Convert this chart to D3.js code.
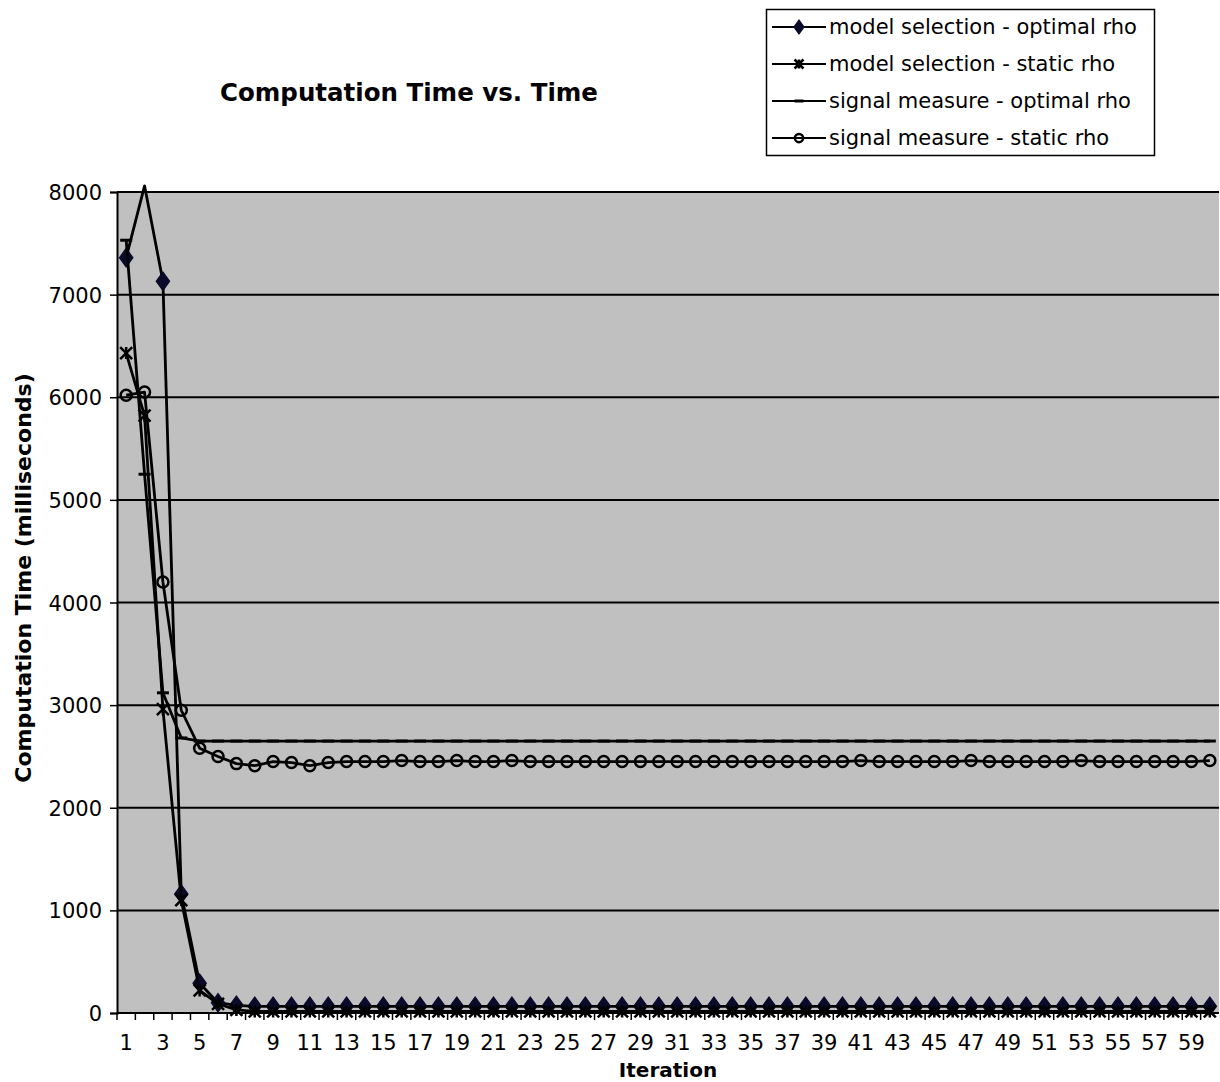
<!DOCTYPE html>
<html lang="en">
<head>
<meta charset="UTF-8">
<title>Computation Time vs. Time</title>
<script src="https://d3js.org/d3.v7.min.js"></script>
<style>
    body { margin: 0; background: #fff; font-family: "DejaVu Sans", Arial, sans-serif; }
    .axis text { font-family: "DejaVu Sans", Arial, sans-serif; fill: #000; }
</style>
</head>
<body>
<svg id="chart" width="1220" height="1082"></svg>
<script>
// iterations 1..60
var iterations = d3.range(1, 61);
var xLabels = iterations.filter(function(d) { return d % 2 === 1; });
var yTicks = [0, 1000, 2000, 3000, 4000, 5000, 6000, 7000, 8000];

var modelSelOptimal = [7360, 8060, 7130, 1160, 290, 100, 75, 65, 65, 65,
    65, 65, 65, 65, 65, 65, 65, 65, 65, 65,
    65, 65, 65, 65, 65, 65, 65, 65, 65, 65,
    65, 65, 65, 65, 65, 65, 65, 65, 65, 65,
    65, 65, 65, 65, 65, 65, 65, 65, 65, 65,
    65, 65, 65, 65, 65, 65, 65, 65, 65, 65];
var modelSelStatic = [6430, 5820, 2960, 1100, 220, 90, 30, 15, 15, 15,
    15, 15, 15, 15, 15, 15, 15, 15, 15, 15,
    15, 15, 15, 15, 15, 15, 15, 15, 15, 15,
    15, 15, 15, 15, 15, 15, 15, 15, 15, 15,
    15, 15, 15, 15, 15, 15, 15, 15, 15, 15,
    15, 15, 15, 15, 15, 15, 15, 15, 15, 15];
var signalOptimal = [7530, 5250, 3120, 2680, 2650, 2650, 2650, 2650, 2650, 2650,
    2650, 2650, 2650, 2650, 2650, 2650, 2650, 2650, 2650, 2650,
    2650, 2650, 2650, 2650, 2650, 2650, 2650, 2650, 2650, 2650,
    2650, 2650, 2650, 2650, 2650, 2650, 2650, 2650, 2650, 2650,
    2650, 2650, 2650, 2650, 2650, 2650, 2650, 2650, 2650, 2650,
    2650, 2650, 2650, 2650, 2650, 2650, 2650, 2650, 2650, 2650];
var signalStatic = [6020, 6050, 4200, 2950, 2580, 2500, 2430, 2410, 2450, 2440,
    2410, 2440, 2450, 2450, 2450, 2460, 2450, 2450, 2460, 2450,
    2450, 2460, 2450, 2450, 2450, 2450, 2450, 2450, 2450, 2450,
    2450, 2450, 2450, 2450, 2450, 2450, 2450, 2450, 2450, 2450,
    2460, 2450, 2450, 2450, 2450, 2450, 2460, 2450, 2450, 2450,
    2450, 2450, 2460, 2450, 2450, 2450, 2450, 2450, 2450, 2460];

var seriesNames = ["model selection - optimal rho", "model selection - static rho",
    "signal measure - optimal rho", "signal measure - static rho"];
var seriesValues = [modelSelOptimal, modelSelStatic, signalOptimal, signalStatic];
var seriesMarkers = ["diamond", "star", "dash", "circle"];

var margin = {top: 192, right: 1, bottom: 69, left: 117},
    W = 1220, H = 1082;

var svg = d3.select("#chart");

var x = d3.scaleBand().domain(iterations).range([margin.left, W - margin.right]);
var y = d3.scaleLinear().domain([0, 8000]).range([H - margin.bottom, margin.top]);
var cx = function(d) { return x(d) + x.bandwidth() / 2; };

// plot area
svg.append("rect")
    .attr("x", margin.left).attr("y", margin.top)
    .attr("width", W - margin.right - margin.left)
    .attr("height", y(0) - margin.top)
    .attr("fill", "#c0c0c0");

// gridlines
svg.append("g").selectAll("line")
    .data(yTicks.filter(function(d) { return d > 0; }))
    .enter().append("line")
    .attr("x1", margin.left).attr("x2", W - margin.right)
    .attr("y1", function(d) { return y(d); }).attr("y2", function(d) { return y(d); })
    .attr("stroke", "#000").attr("stroke-width", 2);

// y axis
var yAxis = svg.append("g")
    .attr("class", "axis")
    .attr("transform", "translate(" + margin.left + ",0)")
    .call(d3.axisLeft(y).tickValues(yTicks).tickFormat(d3.format("d")).tickSize(7).tickPadding(8))
    .call(function(g) { g.select(".domain").attr("stroke-width", 2); });
yAxis.selectAll("line").attr("stroke-width", 1.5);
yAxis.selectAll("text").style("font-size", "21px").attr("dy", "0.36em");

// x axis
var xAxis = svg.append("g")
    .attr("class", "axis")
    .attr("transform", "translate(0," + y(0) + ")")
    .call(d3.axisBottom(x).tickValues(xLabels).tickSize(0).tickPadding(22))
    .call(function(g) { g.select(".domain").attr("stroke-width", 2).attr("d", "M" + margin.left + ",0H" + (W - margin.right)); });
xAxis.selectAll("text").style("font-size", "21px");

// tick marks at category boundaries
xAxis.append("g").selectAll("line")
    .data(iterations)
    .enter().append("line")
    .attr("x1", function(d) { return x(d); }).attr("x2", function(d) { return x(d); })
    .attr("y1", 0).attr("y2", 7)
    .attr("stroke", "#000").attr("stroke-width", 1.5);

// titles
svg.append("text")
    .attr("x", 409).attr("y", 101)
    .attr("text-anchor", "middle")
    .style("font-size", "24.5px").style("font-weight", "bold")
    .text("Computation Time vs. Time");

svg.append("text")
    .attr("x", 668).attr("y", 1077)
    .attr("text-anchor", "middle")
    .style("font-size", "20px").style("font-weight", "bold")
    .text("Iteration");

svg.append("text")
    .attr("transform", "translate(31," + 578 + ") rotate(-90)")
    .attr("text-anchor", "middle")
    .style("font-size", "22px").style("font-weight", "bold")
    .text("Computation Time (milliseconds)");

// markers
function drawMarker(g, type, px, py, sc) {
    sc = sc || 1;
    if (type === "diamond") {
        g.append("path")
            .attr("d", d3.symbol().type(d3.symbolDiamond).size(100 * sc * sc)())
            .attr("transform", "translate(" + px + "," + py + ") scale(1.25,1)")
            .attr("fill", "#0a0a2a").attr("stroke", "#0a0a2a").attr("stroke-width", 1);
    } else if (type === "star") {
        var s = 6 * sc;
        g.append("path")
            .attr("d", "M" + (px - s) + "," + (py - s) + "L" + (px + s) + "," + (py + s) +
                "M" + (px - s) + "," + (py + s) + "L" + (px + s) + "," + (py - s) +
                "M" + px + "," + (py - s) + "L" + px + "," + (py + s))
            .attr("stroke", "#000").attr("stroke-width", 2.5).attr("fill", "none");
    } else if (type === "dash") {
        g.append("line")
            .attr("x1", px - 6 * sc).attr("x2", px + 6 * sc).attr("y1", py).attr("y2", py)
            .attr("stroke", "#000").attr("stroke-width", 3);
    } else if (type === "circle") {
        g.append("circle")
            .attr("cx", px).attr("cy", py).attr("r", 5.5 * sc)
            .attr("fill", "none").attr("stroke", "#000").attr("stroke-width", 2.5);
    }
}

var line = d3.line()
    .x(function(d, i) { return cx(iterations[i]); })
    .y(function(d) { return y(d); });

seriesValues.forEach(function(vals, k) {
    var g = svg.append("g");
    g.append("path")
        .attr("d", line(vals))
        .attr("fill", "none").attr("stroke", "#000")
        .attr("stroke-width", 2.8).attr("stroke-linejoin", "round");
    vals.forEach(function(v, i) {
        // points above the axis maximum get no marker
        if (v <= 8000) drawMarker(g, seriesMarkers[k], cx(iterations[i]), y(v));
    });
});

// legend
var legend = svg.append("g");
legend.append("rect")
    .attr("x", 766.5).attr("y", 9.5).attr("width", 388).attr("height", 146)
    .attr("fill", "#fff").attr("stroke", "#000").attr("stroke-width", 1.5);
seriesNames.forEach(function(name, k) {
    var ly = 27 + k * 37;
    legend.append("line")
        .attr("x1", 772).attr("x2", 826).attr("y1", ly).attr("y2", ly)
        .attr("stroke", "#000").attr("stroke-width", 2);
    drawMarker(legend, seriesMarkers[k], 799, ly, 0.75);
    legend.append("text")
        .attr("x", 829).attr("y", ly).attr("dy", "0.35em")
        .style("font-size", "21px")
        .text(name);
});
</script>
</body>
</html>
